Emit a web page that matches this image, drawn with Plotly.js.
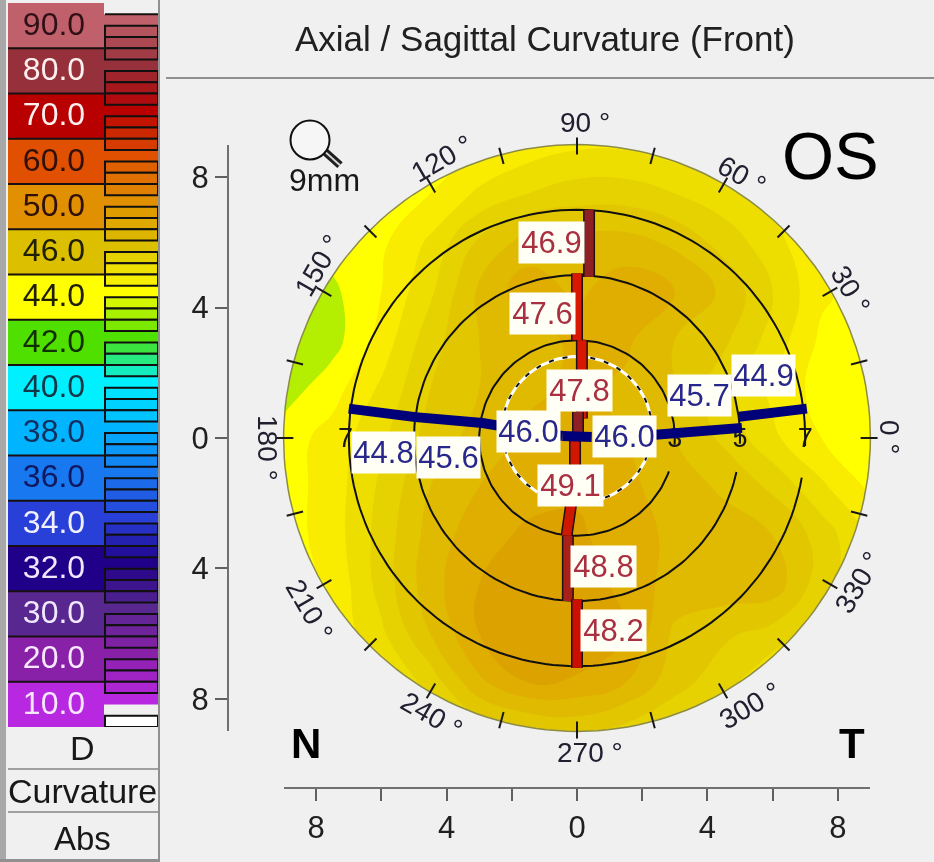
<!DOCTYPE html>
<html><head><meta charset="utf-8">
<script src="https://cdn.plot.ly/plotly-3.0.1.min.js"></script>
<style>html,body{margin:0;padding:0;background:#f0f0f0;overflow:hidden}#c{width:934px;height:862px;filter:blur(0.6px)}</style>
</head><body><div id="c"></div>
<script>
const W=934,H=862,FONT='"Liberation Sans",Arial,sans-serif';
// ---------- legend ----------
const legendLabels=['90.0','80.0','70.0','60.0','50.0','46.0','44.0','42.0','40.0','38.0','36.0','34.0','32.0','30.0','20.0','10.0'];
const legendColors=['#c0606a','#96303a','#b80000','#e05000','#e09000','#dcc000','#ffff00','#50e000','#00f0ff','#00b4ff','#1878f0','#2840d8','#200088','#582890','#8820a8','#b828e0'];
const legendTextColors=['#301018','#fff0f0','#fff0f0','#301008','#301008','#202000','#202000','#103000','#103848','#103060','#101860','#f0f0ff','#f0e8ff','#f0e8ff','#f8e8ff','#f8e8ff'];
// ---------- map, dioptres on a 1.5 mm grid ----------
const gridX=[-9,-7.5,-6,-4.5,-3,-1.5,0,1.5,3,4.5,6,7.5,9];
const gridY=[9,7.5,6,4.5,3,1.5,0,-1.5,-3,-4.5,-6,-7.5,-9];
const rowA=[43.75,43.75,43.75,43.75,43.9,44.2,44.4,44.4,44.2,44.1,44,43.75,43.75];
const rowB=[43.5,43.75,43.75,44,44.6,45,45.25,45.25,45,44.7,44.3,43.9,43.75];
const rowC=[43.25,43.7,43.9,44.6,45.6,46.2,46.2,46.2,45.9,45.3,44.7,44,43.75];
const rowD=[43,43.4,44,44.9,46.1,46.8,46.4,46.8,46.5,45.9,45,44.1,43.75];
const rowE=[43,43.3,44.2,45.3,46,46.3,46.6,46.6,46,45.6,44.8,43.9,43.75];
const rowF=[43.25,43.8,44.6,45.5,46,46.4,46.6,46.4,46,45.2,44.4,43.8,43.75];
const rowG=[43.75,44.2,44.9,45.7,46.2,46.6,46.8,46.5,46,45.4,44.6,44,43.75];
const rowH=[43.75,44.25,45.1,46,46.5,46.8,46.9,46.6,46.3,45.9,45.4,44.6,43.9];
const rowI=[43.75,44.25,45.2,46.2,46.8,47.1,47.1,46.7,46.4,46.3,46,45.3,44.4];
const rowJ=[43.75,44.1,45.2,46.3,47,47.4,47.4,46.8,46.3,46.3,46.3,45.2,44.5];
const rowK=[43.75,44.1,44.9,46,47,47.5,47.5,47,45.9,45.6,45.3,44.7,44.3];
const rowL=[43.75,44,44.4,45.2,46.4,47,46.9,46.5,45.7,45.2,44.5,44.3,44.3];
const rowM=[43.75,43.75,43.75,44.4,45.1,45.4,45.6,45.3,45,44.4,44.2,44.2,44.2];
const mapZ=[rowA,rowB,rowC,rowD,rowE,rowF,rowG,rowH,rowI,rowJ,rowK,rowL,rowM];
const mapScale=[[0,'#b4ee00'],[0.125,'#ffff00'],[0.25,'#faec00'],[0.375,'#eede00'],[0.5,'#e6d200'],[0.625,'#e2c600'],[0.75,'#e0ba00'],[0.875,'#dfae00'],[1,'#dca200']];
// ---------- overlays, millimetres ----------
const ringRadii=[3,5,7];
const tickAngles=[0,15,30,45,60,75,90,105,120,135,150,165,180,195,210,225,240,255,270,285,300,315,330,345];
const angleNames=['90 °','120 °','150 °','180 °','210 °','240 °','270 °','300 °','330 °','0 °','30 °','60 °'];
const redSegments=[
 {x:[0.37,0.37],y:[7.0,4.94],c:'#8e2024'},
 {x:[0,0],y:[5.05,3.0],c:'#d81800'},
 {x:[0.15,0.15],y:[3.0,0.6],c:'#d81800'},
 {x:[0.03,0.03],y:[0.8,0],c:'#8e2024'},
 {x:[-0.06,-0.06,-0.32],y:[0,-1.2,-3.0],c:'#d01800'},
 {x:[-0.28,-0.28],y:[-3.0,-5.0],c:'#a82018'},
 {x:[0,0],y:[-4.95,-7.05],c:'#cc1000'}];
const navySegments=[
 {x:[-7,-4.95],y:[0.9,0.64]},
 {x:[-4.95,-2.9,-0.45],y:[0.64,0.46,0.06]},
 {x:[-0.45,0.45],y:[0.06,0.03]},
 {x:[2.4,5.06],y:[0.1,0.31]},
 {x:[4.97,7.05],y:[0.65,0.9]}];
const redValues=['46.9','47.6','47.8','49.1','48.8','48.2'];
const redPos=[[551,243],[542,313],[579,390],[570,485],[603,566],[613,630]];
const blueValues=['44.8','45.6','46.0','46.0','45.7','44.9'];
const bluePos=[[383,452],[448,457],[528,431],[624,436],[699,395],[763,375]];
const anglePos=[[585,123,0],[442,158,-30],[318,265,-60],[268,448,90],[310,610,60],[432,715,30],[590,752,0],[750,705,-30],[858,582,-60],[890,437,90],[850,290,60],[742,175,30]];
const S=32.6,CX=577,CY=438;
const range=(n)=>Array.from({length:n},(_,i)=>i);
const rad=d=>d*Math.PI/180;
function hex(c){return [1,3,5].map(i=>parseInt(c.substr(i,2),16));}
function mix(a,b,t){const A=hex(a),B=hex(b);return 'rgb('+A.map((v,i)=>Math.round(v+(B[i]-v)*t)).join(',')+')';}
const traces=[];
// map
traces.push({type:'contour',x:gridX,y:gridY,z:mapZ,xaxis:'x',yaxis:'y',colorscale:mapScale,showscale:false,
 autocontour:false,contours:{start:43.5,end:47,size:0.5,coloring:'fill',showlines:false},line:{width:0,smoothing:1.3},hoverinfo:'skip'});
const ov={type:'scatter',xaxis:'x3',yaxis:'y3',hoverinfo:'skip',cliponaxis:false};
// mask outside limbus
{const mx=[],my=[];for(let a=0;a<=360;a+=2){mx.push(9*Math.cos(rad(a)));my.push(9*Math.sin(rad(a)));}
 mx.push(9,9.4,9.4,-9.4,-9.4,9.4,9.4,9);my.push(0,0,-9.4,-9.4,9.4,9.4,0,0);
 traces.push({...ov,mode:'lines',x:mx,y:my,fill:'toself',fillcolor:'#f0f0f0',line:{width:0}});}
// limbus
{const x=[],y=[];for(let a=0;a<=360;a+=2){x.push(9*Math.cos(rad(a)));y.push(9*Math.sin(rad(a)));}
 traces.push({...ov,mode:'lines',x,y,line:{color:'#8c8c48',width:1.5}});}
// angle ticks
{const x=[],y=[];tickAngles.forEach(a=>{x.push(8.7*Math.cos(rad(a)),9.22*Math.cos(rad(a)),null);y.push(8.7*Math.sin(rad(a)),9.22*Math.sin(rad(a)),null);});
 traces.push({...ov,mode:'lines',x,y,line:{color:'#181818',width:2}});}
// rings
ringRadii.forEach(r=>{const x=[],y=[];for(let a=0;a<=360;a+=2){const px=r*Math.cos(rad(a)),py=r*Math.sin(rad(a));
  if(px>0&&py<-0.25&&py>-1){x.push(null);y.push(null);continue;}x.push(px);y.push(py);}
 traces.push({...ov,mode:'lines',x,y,line:{color:'#101010',width:2}});});
// ring names
traces.push({...ov,mode:'text',x:[7,5,3,-7.1],y:[-0.08,-0.08,-0.08,-0.08],text:['7','5','3','7'],textposition:'middle center',textfont:{family:FONT,size:27,color:'#181818'}});
// pupil
{const x=[],y=[];for(let a=0;a<=360;a+=3){x.push(2.3*Math.cos(rad(a)));y.push(0.25+2.25*Math.sin(rad(a)));}
 traces.push({...ov,mode:'lines',x,y,line:{color:'#ffffff',width:3}});
 traces.push({...ov,mode:'lines',x,y,line:{color:'#101010',width:2,dash:'5px,9px'}});}
// meridians
redSegments.forEach(s=>{traces.push({...ov,mode:'lines',x:s.x,y:s.y,line:{color:'#201010',width:12}});traces.push({...ov,mode:'lines',x:s.x,y:s.y,line:{color:s.c,width:9}});});
navySegments.forEach(s=>{traces.push({...ov,mode:'lines',x:s.x,y:s.y,line:{color:'#000078',width:10}});});
// magnifier
traces.push({...ov,mode:'lines',x:[-7.75,-7.27],y:[8.8,8.37],line:{color:'#202020',width:8}});
traces.push({...ov,mode:'lines',x:[-7.75,-7.27],y:[8.8,8.37],line:{color:'#d8d8d8',width:2}});
traces.push({...ov,mode:'markers',x:[-8.19],y:[9.14],marker:{size:39,color:'#f6f6f6',line:{color:'#101010',width:2}}});
// legend swatches
const idx=range(legendLabels.length);
traces.push({type:'bar',orientation:'h',xaxis:'x2',yaxis:'y2',y:idx.map(i=>i+0.5),x:idx.map(()=>96),width:1,marker:{color:legendColors,line:{width:0}},hoverinfo:'skip'});
// ladder
{const oy=[],oc=[],by=[],bc=[];
 idx.forEach(i=>{oy.push(i+0.25+0.125);oc.push(legendColors[i]);
  if(i<idx.length-1)[1,2,3].forEach(k=>{by.push(i+0.25+0.25*k+0.125);bc.push(mix(legendColors[i],legendColors[i+1],k/4));});});
 traces.push({type:'bar',orientation:'h',xaxis:'x2',yaxis:'y2',y:oy,x:oy.map(()=>54),base:96,width:0.25,marker:{color:oc,line:{width:0}},hoverinfo:'skip'});
 traces.push({type:'bar',orientation:'h',xaxis:'x2',yaxis:'y2',y:by,x:by.map(()=>53),base:97,width:0.25,marker:{color:bc,line:{color:'#101010',width:2}},hoverinfo:'skip'});
 traces.push({type:'bar',orientation:'h',xaxis:'x2',yaxis:'y2',y:[15.875],x:[53],base:97,width:0.25,marker:{color:'#ffffff',line:{color:'#101010',width:2}},hoverinfo:'skip'});
 const lx=[],ly=[];idx.slice(1).forEach(i=>{lx.push(0,96,null);ly.push(i,i,null);});
 lx.push(97,150,null);ly.push(0.25,0.25,null);
 traces.push({type:'scatter',mode:'lines',xaxis:'x2',yaxis:'y2',x:lx,y:ly,line:{color:'#181010',width:2},hoverinfo:'skip'});
 traces.push({type:'scatter',mode:'text',xaxis:'x2',yaxis:'y2',x:idx.map(()=>46),y:idx.map(i=>i+0.53),text:legendLabels,textposition:'middle center',textfont:{family:FONT,size:32,color:legendTextColors},hoverinfo:'skip'});
}
const anns=[];
function A(px,py,text,o){anns.push(Object.assign({xref:'paper',yref:'paper',x:px/W,y:1-py/H,text,showarrow:false,xanchor:'center',yanchor:'middle',font:{family:FONT,size:30,color:'#181818'}},o||{}));}
redValues.forEach((v,i)=>A(redPos[i][0],redPos[i][1],v,{font:{family:FONT,size:31,color:'#a83040'},bgcolor:'#fffff6',width:65,height:41,borderpad:0}));
blueValues.forEach((v,i)=>A(bluePos[i][0],bluePos[i][1],v,{font:{family:FONT,size:31,color:'#28288c'},bgcolor:'#fffff6',width:63,height:41,borderpad:0}));
angleNames.forEach((v,i)=>A(anglePos[i][0],anglePos[i][1],v,{textangle:anglePos[i][2],font:{family:FONT,size:28,color:'#202030'}}));
A(545,39,'Axial / Sagittal Curvature (Front)',{font:{family:FONT,size:35,color:'#202020'}});
A(324,180,'9mm',{font:{family:FONT,size:32,color:'#181818'}});
A(830,156,'OS',{font:{family:FONT,size:67,color:'#000000'}});
A(306,743,'N',{font:{family:FONT,size:42,weight:700,color:'#000000'}});
A(852,743,'T',{font:{family:FONT,size:42,weight:700,color:'#000000'}});
A(82,748,'D',{font:{family:FONT,size:34,color:'#181818'}});
A(82,791,'Curvature',{font:{family:FONT,size:34,color:'#181818'}});
A(82,838,'Abs',{font:{family:FONT,size:33,color:'#181818'}});
const R=(x0,y0,x1,y1,c)=>({type:'rect',xref:'paper',yref:'paper',x0:x0/W,x1:x1/W,y0:1-y0/H,y1:1-y1/H,fillcolor:c,line:{width:0},layer:'above'});
const shapes=[R(0,0,6,H,'#a8a8a8'),R(158,0,160,H,'#909090'),R(166,77,W,79,'#909090'),R(8,768,158,770,'#a0a0a0'),R(8,811,158,813,'#a0a0a0'),R(0,859,160,862,'#909090')];
const mapTicks=[-8,-6,-4,-2,0,2,4,6,8],mapTickText=['8','','4','','0','','4','','8'];
const yTicks=[-8,-4,0,4,8],yTickText=['8','4','0','4','8'];
const layout={width:W,height:H,margin:{l:0,r:0,t:0,b:0,pad:0},paper_bgcolor:'#f0f0f0',plot_bgcolor:'rgba(0,0,0,0)',showlegend:false,barmode:'overlay',
 xaxis:{domain:[(CX-9*S)/W,(CX+9*S)/W],range:[-9,9],anchor:'free',position:1-788/H,showgrid:false,zeroline:false,showline:true,linecolor:'#707070',linewidth:2,ticks:'outside',ticklen:12,tickwidth:2,tickcolor:'#606060',tickmode:'array',tickvals:mapTicks,ticktext:mapTickText,tickangle:0,tickfont:{family:FONT,size:31,color:'#202020'}},
 yaxis:{domain:[1-(CY+9*S)/H,1-(CY-9*S)/H],range:[-9,9],anchor:'free',position:228/W,showgrid:false,zeroline:false,showline:true,linecolor:'#707070',linewidth:2,ticks:'outside',ticklen:12,tickwidth:2,tickcolor:'#606060',tickmode:'array',tickvals:yTicks,ticktext:yTickText,tickangle:0,tickfont:{family:FONT,size:31,color:'#202020'}},
 xaxis2:{domain:[8/W,158/W],range:[0,150],visible:false,fixedrange:true,anchor:'y2'},
 yaxis2:{domain:[1-727/H,1-3/H],range:[16,0],visible:false,fixedrange:true,anchor:'x2'},
 xaxis3:{domain:[0,1],range:[-CX/S,(W-CX)/S],visible:false,anchor:'y3'},
 yaxis3:{domain:[0,1],range:[(CY-H)/S,CY/S],visible:false,anchor:'x3'},
 annotations:anns,shapes};
Plotly.newPlot('c',traces,layout,{displayModeBar:false,staticPlot:true});
</script></body></html>
